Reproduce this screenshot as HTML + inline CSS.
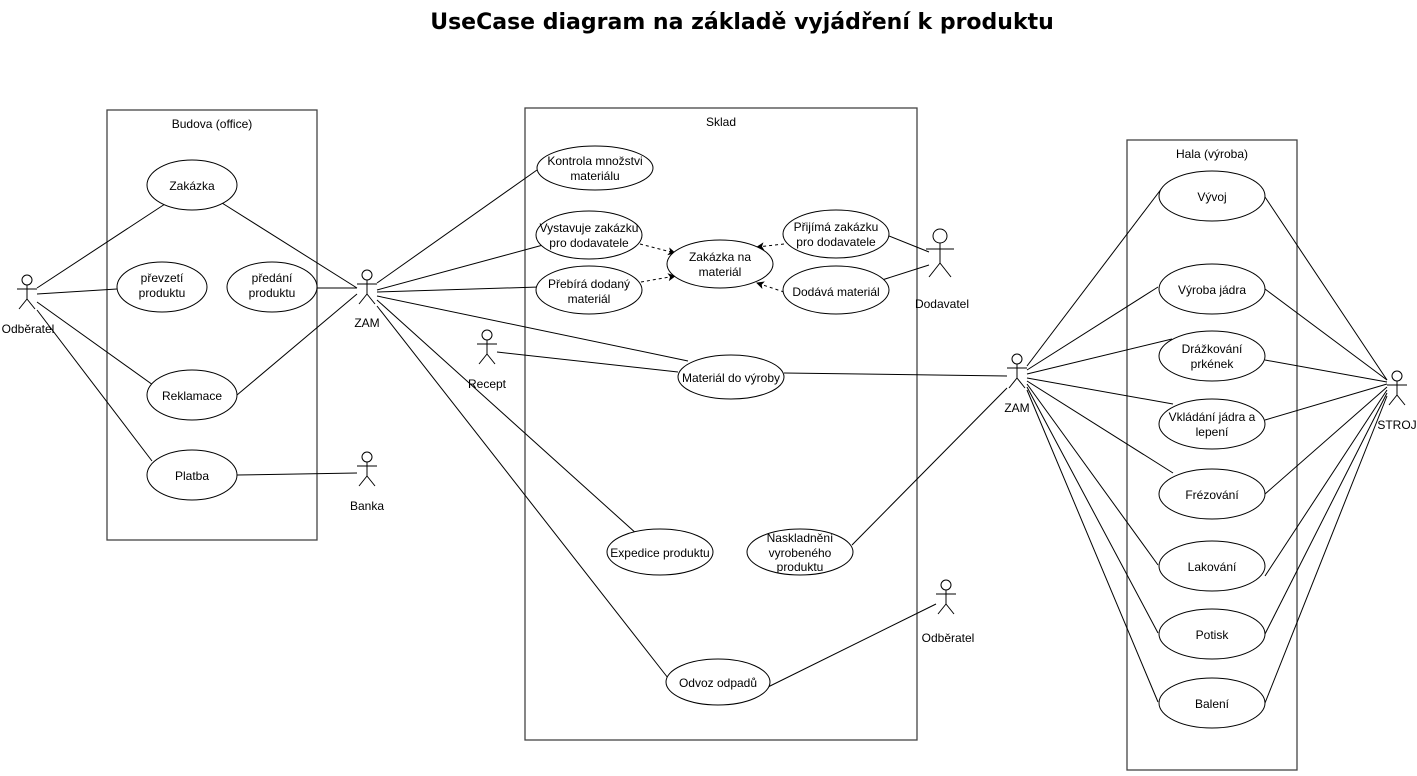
<!DOCTYPE html>
<html><head><meta charset="utf-8"><style>
body{margin:0;background:#fff;width:1417px;height:771px;overflow:hidden}
svg text{font-family:"Liberation Sans",Arial,sans-serif;font-size:12px;fill:#000}
</style></head><body>
<svg width="1417" height="771" viewBox="0 0 1417 771" xmlns="http://www.w3.org/2000/svg">
<defs>
<marker id="ar" markerWidth="8" markerHeight="8" refX="7" refY="4" orient="auto" markerUnits="userSpaceOnUse"><path d="M0,0 L8,4 L0,8 L2,4 Z" fill="#000"/></marker>
</defs>
<text x="742" y="29" text-anchor="middle" style="font-size:22px;font-weight:bold;font-family:'DejaVu Sans',sans-serif">UseCase diagram na základě vyjádření k produktu</text>
<g fill="none" stroke="#444" stroke-width="1.3">
<rect x="107" y="110" width="210" height="430"/>
<rect x="525" y="108" width="392" height="632"/>
<rect x="1127" y="140" width="170" height="630"/>
</g>
<text x="212" y="128" text-anchor="middle">Budova (office)</text>
<text x="721" y="126" text-anchor="middle">Sklad</text>
<text x="1212" y="158" text-anchor="middle">Hala (výroba)</text>
<g stroke="#000" stroke-width="1" fill="none">
<line x1="37" y1="288" x2="165" y2="204"/><line x1="37" y1="294" x2="117" y2="289"/><line x1="37" y1="302" x2="153" y2="385"/><line x1="37" y1="310" x2="152" y2="461"/>
<line x1="357" y1="288" x2="222" y2="203"/><line x1="357" y1="288" x2="317" y2="288"/><line x1="357" y1="294" x2="237" y2="395"/><line x1="237" y1="475" x2="357" y2="473"/>
<line x1="377" y1="283" x2="537" y2="170"/><line x1="377" y1="290" x2="543" y2="245"/><line x1="377" y1="292" x2="539" y2="287"/><line x1="377" y1="296" x2="688" y2="361"/><line x1="377" y1="300" x2="638" y2="535"/><line x1="377" y1="306" x2="668" y2="678"/>
<line x1="497" y1="352" x2="678" y2="372"/><line x1="784" y1="373" x2="1007" y2="376"/><line x1="852" y1="545" x2="1007" y2="388"/><line x1="768" y1="687" x2="936" y2="604"/>
<line x1="929" y1="252" x2="889" y2="236"/><line x1="929" y1="265" x2="882" y2="280"/>
</g>
<g stroke="#000" stroke-width="1" stroke-dasharray="3,3" fill="none" marker-end="url(#ar)">
<line x1="640" y1="244" x2="675" y2="253"/><line x1="641" y1="282" x2="675" y2="276"/><line x1="784" y1="244" x2="757" y2="247"/><line x1="784" y1="292" x2="757" y2="283"/>
</g>
<g stroke="#000" stroke-width="1" fill="none">
<line x1="1027" y1="366" x2="1162" y2="188"/><line x1="1027" y1="370" x2="1158" y2="287"/><line x1="1027" y1="374" x2="1172" y2="339"/><line x1="1027" y1="378" x2="1173" y2="404"/><line x1="1027" y1="381" x2="1173" y2="473"/><line x1="1027" y1="384" x2="1158" y2="565"/><line x1="1027" y1="387" x2="1158" y2="633"/><line x1="1027" y1="390" x2="1158" y2="702"/>
<line x1="1387" y1="380" x2="1265" y2="197"/><line x1="1387" y1="380" x2="1265" y2="289"/><line x1="1387" y1="382" x2="1265" y2="360"/><line x1="1387" y1="384" x2="1265" y2="420"/><line x1="1387" y1="387" x2="1265" y2="494"/><line x1="1387" y1="390" x2="1265" y2="576"/><line x1="1387" y1="393" x2="1265" y2="634"/><line x1="1387" y1="396" x2="1265" y2="703"/>
</g>
<g stroke="#000" stroke-width="1" fill="#fff">
<ellipse cx="192" cy="185" rx="45" ry="25"/><ellipse cx="162" cy="287" rx="45" ry="25"/><ellipse cx="272" cy="287" rx="45" ry="25"/><ellipse cx="192" cy="395" rx="45" ry="25"/><ellipse cx="192" cy="475" rx="45" ry="25"/>
<ellipse cx="595" cy="168" rx="58" ry="22"/><ellipse cx="589" cy="235" rx="53" ry="24"/><ellipse cx="589" cy="290" rx="53" ry="24"/><ellipse cx="720" cy="264" rx="53" ry="24"/><ellipse cx="836" cy="234" rx="53" ry="24"/><ellipse cx="836" cy="290" rx="53" ry="24"/>
<ellipse cx="731" cy="377" rx="53" ry="22"/><ellipse cx="660" cy="552" rx="53" ry="23"/><ellipse cx="800" cy="552" rx="53" ry="23"/><ellipse cx="718" cy="682" rx="52" ry="23"/>
<ellipse cx="1212" cy="196" rx="53" ry="25"/><ellipse cx="1212" cy="289" rx="53" ry="25"/><ellipse cx="1212" cy="356" rx="53" ry="25"/><ellipse cx="1212" cy="424" rx="53" ry="25"/><ellipse cx="1212" cy="494" rx="53" ry="25"/><ellipse cx="1212" cy="566" rx="53" ry="25"/><ellipse cx="1212" cy="634" rx="53" ry="25"/><ellipse cx="1212" cy="703" rx="53" ry="25"/>
</g>
<g text-anchor="middle">
<text x="192" y="190">Zakázka</text><text x="162" y="282">převzetí</text><text x="162" y="297">produktu</text><text x="272" y="282">předání</text><text x="272" y="297">produktu</text><text x="192" y="400">Reklamace</text><text x="192" y="480">Platba</text>
<text x="595" y="165">Kontrola množstvi</text><text x="595" y="180">materiálu</text>
<text x="589" y="232">Vystavuje zakázku</text><text x="589" y="247">pro dodavatele</text>
<text x="589" y="288">Přebírá dodaný</text><text x="589" y="303">materiál</text>
<text x="720" y="261">Zakázka na</text><text x="720" y="276">materiál</text>
<text x="836" y="231">Přijímá zakázku</text><text x="836" y="246">pro dodavatele</text>
<text x="836" y="296">Dodává materiál</text>
<text x="731" y="382">Materiál do výroby</text>
<text x="660" y="557">Expedice produktu</text>
<text x="800" y="542">Naskladnění</text><text x="800" y="557">vyrobeného</text><text x="800" y="571">produktu</text>
<text x="718" y="687">Odvoz odpadů</text>
<text x="1212" y="201">Vývoj</text><text x="1212" y="294">Výroba jádra</text><text x="1212" y="353">Drážkování</text><text x="1212" y="368">prkének</text><text x="1212" y="421">Vkládání jádra a</text><text x="1212" y="436">lepení</text><text x="1212" y="499">Frézování</text><text x="1212" y="571">Lakování</text><text x="1212" y="639">Potisk</text><text x="1212" y="708">Balení</text>
</g>
<g stroke="#000" stroke-width="1" fill="#fff">
<g transform="translate(27,275)"><circle cx="0" cy="5" r="5"/><line x1="0" y1="10" x2="0" y2="24"/><line x1="-10" y1="14" x2="10" y2="14"/><line x1="0" y1="24" x2="-8" y2="34"/><line x1="0" y1="24" x2="8" y2="34"/></g>
<g transform="translate(367,270)"><circle cx="0" cy="5" r="5"/><line x1="0" y1="10" x2="0" y2="24"/><line x1="-10" y1="14" x2="10" y2="14"/><line x1="0" y1="24" x2="-8" y2="34"/><line x1="0" y1="24" x2="8" y2="34"/></g>
<g transform="translate(367,452)"><circle cx="0" cy="5" r="5"/><line x1="0" y1="10" x2="0" y2="24"/><line x1="-10" y1="14" x2="10" y2="14"/><line x1="0" y1="24" x2="-8" y2="34"/><line x1="0" y1="24" x2="8" y2="34"/></g>
<g transform="translate(487,330)"><circle cx="0" cy="5" r="5"/><line x1="0" y1="10" x2="0" y2="24"/><line x1="-10" y1="14" x2="10" y2="14"/><line x1="0" y1="24" x2="-8" y2="34"/><line x1="0" y1="24" x2="8" y2="34"/></g>
<g transform="translate(940,229)"><circle cx="0" cy="7" r="7"/><line x1="0" y1="14" x2="0" y2="34"/><line x1="-14" y1="20" x2="14" y2="20"/><line x1="0" y1="34" x2="-11" y2="48"/><line x1="0" y1="34" x2="11" y2="48"/></g>
<g transform="translate(946,580)"><circle cx="0" cy="5" r="5"/><line x1="0" y1="10" x2="0" y2="24"/><line x1="-10" y1="14" x2="10" y2="14"/><line x1="0" y1="24" x2="-8" y2="34"/><line x1="0" y1="24" x2="8" y2="34"/></g>
<g transform="translate(1017,354)"><circle cx="0" cy="5" r="5"/><line x1="0" y1="10" x2="0" y2="24"/><line x1="-10" y1="14" x2="10" y2="14"/><line x1="0" y1="24" x2="-8" y2="34"/><line x1="0" y1="24" x2="8" y2="34"/></g>
<g transform="translate(1397,371)"><circle cx="0" cy="5" r="5"/><line x1="0" y1="10" x2="0" y2="24"/><line x1="-10" y1="14" x2="10" y2="14"/><line x1="0" y1="24" x2="-8" y2="34"/><line x1="0" y1="24" x2="8" y2="34"/></g>
</g>
<g text-anchor="middle">
<text x="28" y="333">Odběratel</text><text x="367" y="327">ZAM</text><text x="367" y="510">Banka</text><text x="487" y="388">Recept</text>
<text x="942" y="308">Dodavatel</text><text x="948" y="642">Odběratel</text><text x="1017" y="412">ZAM</text><text x="1397" y="429">STROJ</text>
</g>
</svg>
</body></html>
